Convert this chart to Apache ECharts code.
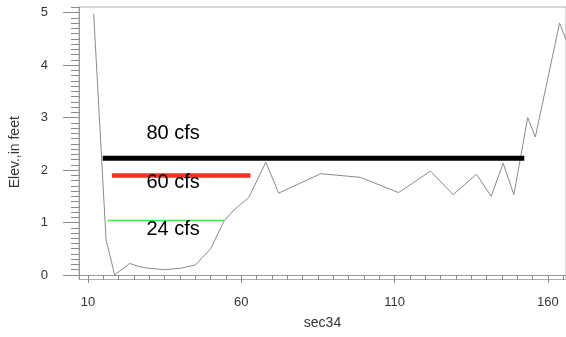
<!DOCTYPE html>
<html>
<head>
<meta charset="utf-8">
<script src="https://cdn.jsdelivr.net/npm/echarts@6/dist/echarts.min.js"></script>
<style>
html,body{margin:0;padding:0;background:#fff;}
#chart{width:566px;height:337px;}
</style>
</head>
<body>
<div id="chart"></div>
<script>
// Ground profile (section 34)
const groundX = [11.85, 15.9, 18.7, 23.6, 26.6, 29.6, 35.0, 40.3, 45.0, 50.0, 54.4, 57.6, 62.5, 68.0, 72.2, 85.9, 93.4, 98.9, 111.3, 121.7, 129.1, 136.7, 141.5, 145.4, 148.9, 153.4, 155.9, 163.8, 166.0];
const groundY = [4.98, 0.67, 0.00, 0.22, 0.16, 0.13, 0.10, 0.13, 0.19, 0.50, 1.03, 1.24, 1.48, 2.15, 1.56, 1.93, 1.89, 1.86, 1.57, 1.98, 1.53, 1.92, 1.50, 2.13, 1.53, 3.00, 2.63, 4.80, 4.47];

// Water surface levels per flow
const flowNames = ['80 cfs', '60 cfs', '24 cfs'];
const flowLevel = [2.223, 1.894, 1.038];
const flowStart = [14.8, 17.8, 16.4];
const flowEnd = [152.3, 63.0, 54.6];
const labelX = [28.9, 28.9, 28.9];
const labelY = [2.69, 1.77, 0.86];

// Axis ticks
const xMajorTicks = [10, 60, 110, 160];
const yMajorTicks = [0, 1, 2, 3, 4, 5];

const xMinorTicks = [];
for (let v = 10; v <= 165; v += 5) xMinorTicks.push(v);
const yMinorTicks = [];
for (let i = 0; i <= 51; i++) yMinorTicks.push(i / 10);

const FONT = 'Liberation Sans, Arial, sans-serif';
const flowColors = ['#000000', '#ee3322', '#44ee44'];
const flowWidths = [5, 4.5, 1.5];

const series = [{
  type: 'line',
  data: groundX.map((x, i) => [x, groundY[i]]),
  showSymbol: false,
  lineStyle: { color: '#8a8a8a', width: 1 },
  z: 2,
  silent: true
}];
flowNames.forEach((n, i) => {
  series.push({
    type: 'line',
    name: n,
    data: [[flowStart[i], flowLevel[i]], [flowEnd[i], flowLevel[i]]],
    showSymbol: false,
    lineStyle: { color: flowColors[i], width: flowWidths[i], cap: 'butt' },
    z: 3,
    silent: true
  });
  series.push({
    type: 'scatter',
    data: [[labelX[i], labelY[i]]],
    symbolSize: 1,
    itemStyle: { color: 'rgba(0,0,0,0)', opacity: 1 },
    label: {
      show: true, position: 'right', distance: 0, opacity: 1,
      formatter: n, color: '#000', fontSize: 20, fontFamily: FONT
    },
    z: 5,
    silent: true
  });
});

const xMin = 7.07, xMax = 165.9, yMin = -0.086, yMax = 5.107;

const option = {
  animation: false,
  backgroundColor: '#fff',
  grid: { left: 78, top: 7, right: -2, bottom: 57.5, show: true, borderColor: '#b0b0b0', borderWidth: 1 },
  xAxis: [{
    type: 'value', min: xMin, max: xMax, position: 'bottom',
    name: 'sec34', nameLocation: 'middle', nameGap: 37,
    nameTextStyle: { fontSize: 14, color: '#333', fontFamily: FONT },
    axisLine: { show: true, lineStyle: { color: '#999', width: 1 } },
    axisTick: { show: true, customValues: xMajorTicks, length: 8, lineStyle: { color: '#888' } },
    axisLabel: { customValues: xMajorTicks, margin: 16, fontSize: 13, color: '#333', fontFamily: FONT },
    splitLine: { show: false }
  }, {
    type: 'value', min: xMin, max: xMax, position: 'bottom',
    axisLine: { show: false },
    axisTick: { show: true, customValues: xMinorTicks, length: 5, lineStyle: { color: '#888' } },
    axisLabel: { show: false },
    splitLine: { show: false }
  }],
  yAxis: [{
    type: 'value', min: yMin, max: yMax, position: 'left',
    name: 'Elev.,in feet', nameLocation: 'middle', nameGap: 57, nameRotate: 90,
    nameTextStyle: { fontSize: 14, color: '#333', fontFamily: FONT, padding: [0, 18, 0, 0] },
    axisLine: { show: true, lineStyle: { color: '#999', width: 1 } },
    axisTick: { show: true, customValues: yMajorTicks, length: 16, lineStyle: { color: '#888' } },
    axisLabel: { customValues: yMajorTicks, margin: 31, fontSize: 13, color: '#333', fontFamily: FONT },
    splitLine: { show: false }
  }, {
    type: 'value', min: yMin, max: yMax, position: 'left',
    axisLine: { show: false },
    axisTick: { show: true, customValues: yMinorTicks, length: 8, lineStyle: { color: '#888' } },
    axisLabel: { show: false },
    splitLine: { show: false }
  }],
  series: series
};

const chart = echarts.init(document.getElementById('chart'), null, { renderer: 'canvas' });
chart.setOption(option);
</script>
</body>
</html>
